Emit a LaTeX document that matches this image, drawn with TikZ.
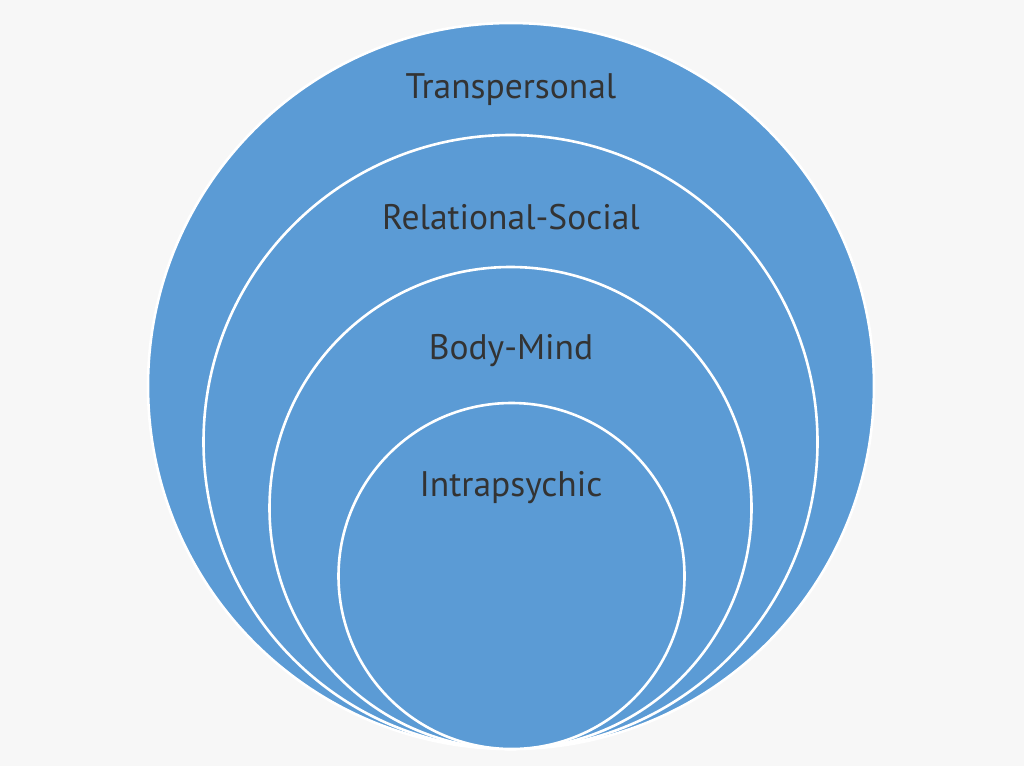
\documentclass[tikz,border=0pt]{standalone}
\usepackage{fontspec}
\setmainfont{PT Sans}
\usetikzlibrary{positioning}
\definecolor{ringblue}{RGB}{91,155,213}
\definecolor{pagegray}{RGB}{247,247,247}
\definecolor{textgray}{RGB}{51,51,51}

\begin{document}
\begin{tikzpicture}[
  x=1pt, y=-1pt,
  ring/.style={draw=white, line width=2.6pt, circle, fill=ringblue, inner sep=0pt},
  lbl/.style={text=textgray, font=\fontsize{35.5}{40}\selectfont}
]
\fill[pagegray] (0,0) rectangle (1024,766);
\useasboundingbox (0,0) rectangle (1024,766);

\node[ring, minimum size=726pt] (trans) at (511,386) {};
\node[ring, minimum size=614pt] (rel) at (510.5,442) {};
\node[ring, minimum size=482pt] (body) at (510.5,508) {};
\node[ring, minimum size=346pt] (intra) at (511.5,576) {};

\node[lbl] (transtxt) at (511,90) {Transpersonal};
\node[lbl] (reltxt) at (511,217) {Relational-Social};
\node[lbl] (bodytxt) at (511,351) {Body-Mind};
\node[lbl] (intratxt) at (511,488) {Intrapsychic};
\end{tikzpicture}
\end{document}
